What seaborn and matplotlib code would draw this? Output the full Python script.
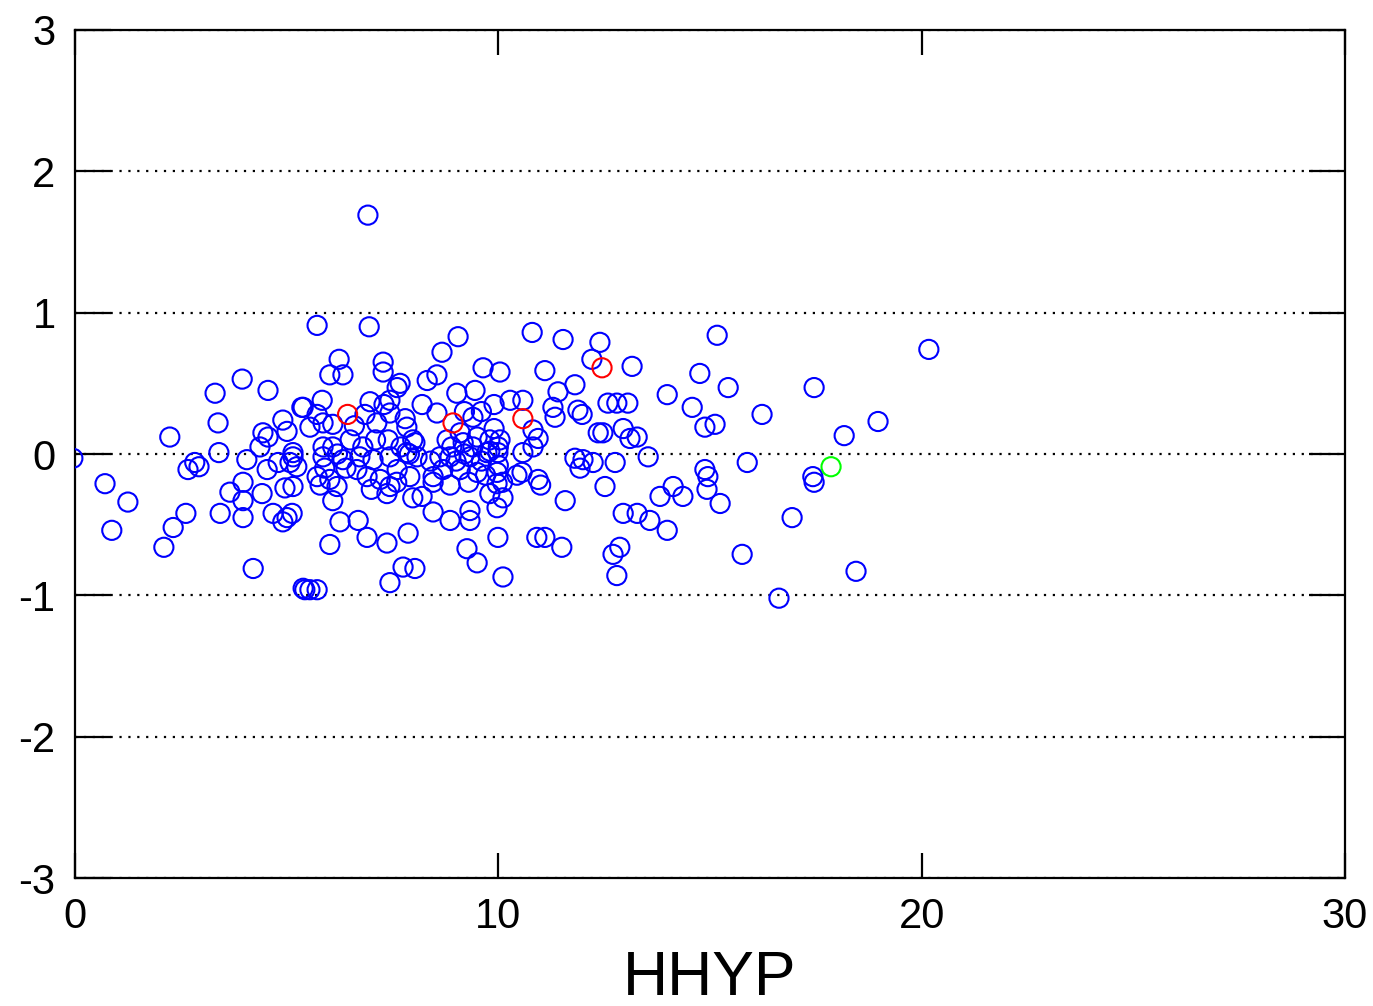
import matplotlib
matplotlib.use('Agg')
import matplotlib.pyplot as plt
import seaborn as sns
import pandas as pd

# values
blue_x = [-0.05, 0.71, 1.25, 0.87, 2.24, 2.10, 2.32, 2.62, 2.67, 2.83, 2.93, 3.31, 3.38, 3.40, 3.43,
          3.95, 4.56, 4.06, 3.66, 3.97, 3.97, 3.97, 4.21, 4.42, 4.44, 4.56, 4.37, 4.91, 5.01, 4.80,
          5.08, 5.15, 4.96, 4.68, 5.01, 4.91, 4.54, 5.36, 5.43,
          5.72, 6.95, 6.24, 6.02, 6.33, 7.28, 7.28, 7.68, 8.32, 8.55, 8.67, 9.05, 10.80, 9.64, 10.04,
          9.02, 9.45, 10.28, 10.58, 5.39, 5.84, 6.97, 7.44, 7.61, 5.72, 5.86, 5.55, 6.09, 6.85, 7.13,
          7.44, 7.84, 7.98, 8.55, 9.40, 8.79, 9.17, 9.80, 10.04, 5.86, 6.09, 5.15, 5.24, 5.86, 6.33,
          6.73, 7.04, 7.44, 7.84, 8.03, 8.08, 8.62, 8.86, 9.33, 9.73, 9.99, 10.58, 10.82, 5.72, 6.02,
          5.79, 6.19, 6.66, 6.90, 7.21, 7.44, 7.61, 7.91, 8.46, 8.69, 9.10, 9.50, 9.97, 10.44, 5.15,
          5.13, 6.09, 7.37, 7.98, 8.46, 8.86, 9.80, 10.11, 9.97, 6.26, 6.69, 6.90, 7.37, 6.02, 7.87,
          8.46, 8.86, 9.33, 9.97, 9.33, 9.99, 9.26, 9.50, 10.11, 10.91, 7.44, 7.75, 8.03, 5.55, 5.39,
          5.72,
          11.53, 12.40, 12.21, 13.16, 11.10, 15.17, 14.76, 15.43, 13.99, 14.58, 14.88, 15.12, 16.23,
          11.41, 11.81, 11.29, 11.34, 11.88, 11.98, 12.59, 12.80, 13.06, 12.36, 12.47, 12.95, 13.11,
          13.28, 10.82, 10.94, 11.81, 12.00, 11.93, 12.24, 12.76, 13.54, 10.56, 10.94, 11.00, 12.52,
          11.58, 13.82, 14.13, 14.36, 14.88, 14.95, 14.93, 15.24, 15.88, 12.95, 13.28, 13.58, 13.99,
          11.10, 11.50, 12.87, 12.71, 12.80, 15.76,
          20.17, 17.46, 18.97, 18.17, 17.43, 17.46, 16.94, 18.45, 16.63, 6.92,
          9.20, 9.40, 9.60, 9.80, 10.00, 9.10, 9.50, 9.90, 9.70, 10.10, 9.30, 8.90, 9.00, 10.00, 9.60,
          9.20, 9.90, 6.20, 6.50, 6.80, 7.10, 7.40, 7.70, 7.90, 6.40, 7.00, 7.60, 5.90, 6.60, 7.30,
          7.80, 8.20, 8.40, 8.20]
blue_y = [-0.03, -0.21, -0.34, -0.54, 0.12, -0.66, -0.52, -0.42, -0.11, -0.06, -0.09, 0.43, 0.22, 0.01, -0.42,
          0.53, 0.45, -0.04, -0.27, -0.20, -0.33, -0.45, -0.81, -0.28, 0.15, 0.12, 0.05, 0.24, 0.16, -0.06,
          -0.06, -0.02, -0.24, -0.42, -0.45, -0.48, -0.11, 0.33, -0.96,
          0.91, 0.90, 0.67, 0.56, 0.56, 0.65, 0.58, 0.50, 0.52, 0.56, 0.72, 0.83, 0.86, 0.61, 0.58,
          0.43, 0.45, 0.38, 0.38, 0.33, 0.38, 0.37, 0.38, 0.47, 0.28, 0.22, 0.19, 0.21, 0.28, 0.22,
          0.29, 0.19, 0.10, 0.29, 0.26, 0.10, 0.08, 0.10, 0.10, 0.05, 0.05, 0.01, -0.09, -0.02, -0.04,
          -0.02, -0.04, -0.02, 0.01, 0.08, -0.02, -0.02, -0.02, -0.02, 0.01, 0.01, 0.01, 0.05, -0.16, -0.18,
          -0.22, -0.23, -0.11, -0.16, -0.18, -0.23, -0.11, -0.16, -0.16, -0.11, -0.11, -0.13, -0.13, -0.15, -0.23,
          -0.42, -0.33, -0.28, -0.31, -0.20, -0.22, -0.28, -0.31, -0.21, -0.48, -0.47, -0.59, -0.63, -0.64, -0.56,
          -0.41, -0.47, -0.40, -0.38, -0.47, -0.59, -0.67, -0.77, -0.87, -0.59, -0.91, -0.80, -0.81, -0.96, -0.95,
          -0.96,
          0.81, 0.79, 0.67, 0.62, 0.59, 0.84, 0.57, 0.47, 0.42, 0.33, 0.19, 0.21, 0.28,
          0.44, 0.49, 0.33, 0.26, 0.31, 0.28, 0.36, 0.36, 0.36, 0.15, 0.15, 0.18, 0.11,
          0.12, 0.17, 0.11, -0.03, -0.04, -0.10, -0.06, -0.06, -0.02, -0.13, -0.18, -0.22, -0.23,
          -0.33, -0.30, -0.23, -0.30, -0.11, -0.16, -0.25, -0.35, -0.06, -0.42, -0.42, -0.47, -0.54,
          -0.59, -0.66, -0.66, -0.71, -0.86, -0.71,
          0.74, 0.47, 0.23, 0.13, -0.16, -0.20, -0.45, -0.83, -1.02, 1.69,
          0.00, 0.05, -0.05, 0.02, -0.08, 0.15, 0.12, 0.18, -0.15, -0.20, -0.20, 0.05, -0.05, 0.05, 0.30,
          0.30, 0.35, 0.00, 0.10, 0.05, 0.10, 0.10, 0.05, 0.00, -0.10, -0.25, -0.20, -0.10, 0.20, 0.35,
          0.25, 0.35, -0.05, -0.30]

red_x = [6.44, 8.93, 10.58, 12.45]
red_y = [0.28, 0.22, 0.25, 0.61]

green_x = [17.86]
green_y = [-0.09]

x_ticks = [0, 10, 20, 30]
y_ticks = [-3, -2, -1, 0, 1, 2, 3]

sns.set_style('white')
plt.rcParams['font.family'] = ['Liberation Sans', 'DejaVu Sans']

fig = plt.figure(figsize=(13.73, 10.06), dpi=100)
ax = fig.add_axes([0.0546, 0.1272, 0.925, 0.8430])

for xs, ys, col in [(blue_x, blue_y, '#0000ff'), (red_x, red_y, '#ff0000'), (green_x, green_y, '#00ff00')]:
    sns.scatterplot(x=xs, y=ys, ax=ax, marker='o', s=190, facecolor='none',
                    edgecolor=col, linewidth=1.5, zorder=3)

ax.set_xlim(0, 30)
ax.set_ylim(-3, 3)
ax.set_xticks(x_ticks)
ax.set_yticks(y_ticks)
ax.set_xticklabels([str(t) for t in x_ticks])
ax.set_yticklabels([str(t) for t in y_ticks])

ax.yaxis.grid(True, linestyle=(0, (1, 3)), color='black', linewidth=1.6)
ax.xaxis.grid(False)
ax.set_axisbelow(True)

for sp in ax.spines.values():
    sp.set_color('black')
    sp.set_linewidth(1.6)

ax.tick_params(axis='both', direction='in', top=True, right=True, bottom=True, left=True,
               width=1.6, labelsize=30, colors='black')
ax.tick_params(axis='x', length=18, pad=14)
ax.tick_params(axis='y', length=26, pad=14)

ax.set_xlabel('HHYP', fontsize=45, labelpad=8, color='black')
ax.set_ylabel('')

fig.savefig('out.png', dpi=100, facecolor='white')
